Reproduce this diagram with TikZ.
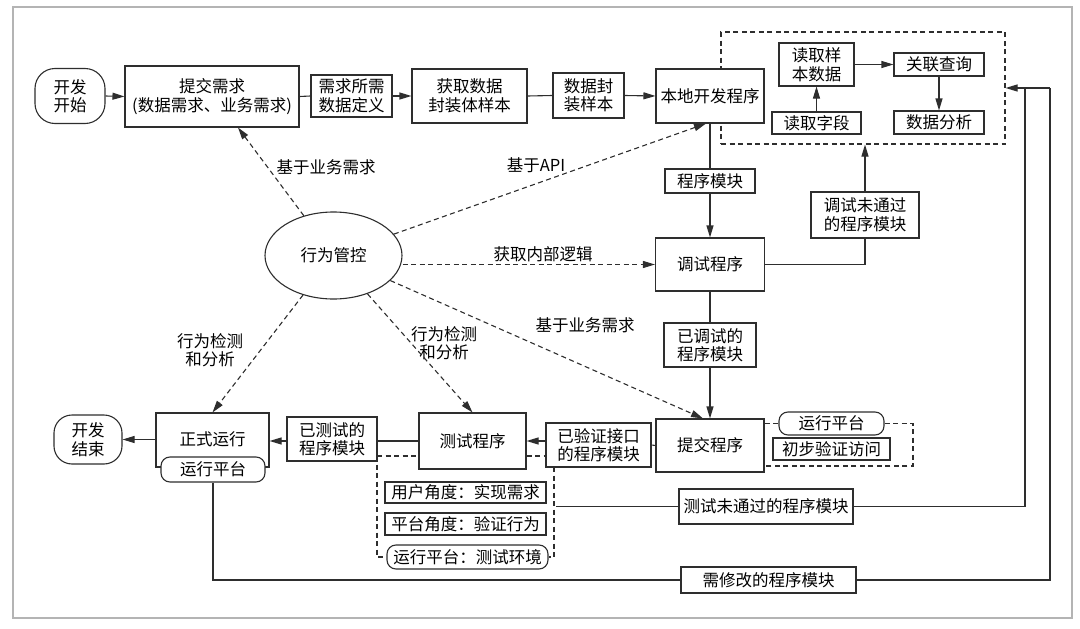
\documentclass[tikz,border=0pt]{standalone}
\usepackage{fontspec}
\setmainfont{Noto Sans CJK SC}
\usetikzlibrary{arrows.meta,shapes.geometric,calc}
\definecolor{lc}{HTML}{2E2E2E}
\definecolor{fr}{HTML}{B4B4B4}
\begin{document}
\begin{tikzpicture}[x=1pt,y=-1pt,
  txt/.style={font=\fontsize{16.5}{18.5}\selectfont},
  box/.style={draw=lc, line width=1.1pt, inner sep=0pt, align=center, txt, fill=white},
  rbox/.style={box, rounded corners=9pt},
  lnk/.style={draw=lc, line width=1.1pt},
  arr/.style={lnk, -{Triangle[length=12pt,width=7pt]}},
  dsh/.style={lnk, dash pattern=on 5pt off 3.5pt},
  darr/.style={dsh, -{Triangle[length=12pt,width=7pt]}},
  lbl/.style={align=center, txt, inner sep=0pt}]
\useasboundingbox (0,0) rectangle (1080,629);
\draw[fr, line width=1.2pt] (13,7) rectangle (1072,618);

% dashed group frame (drawn first so the local box covers it)
\node[draw=lc, line width=1.1pt, dash pattern=on 5pt off 3.5pt, minimum width=284, minimum height=112, inner sep=0pt] (dbox) at (863,88) {};

% top row
\node[box, rounded corners=20pt, minimum width=70, minimum height=55] (start) at (70,96) {开发\\开始};
\node[box, minimum width=174, minimum height=61] (req) at (212,96.5) {提交需求\\(数据需求、业务需求)};
\node[box, minimum width=81, minimum height=42] (reqdef) at (351.5,96) {需求所需\\数据定义};
\node[box, minimum width=115, minimum height=54] (getdata) at (469.5,96) {获取数据\\封装体样本};
\node[box, minimum width=71, minimum height=45] (pack) at (588.5,95.5) {数据封\\装样本};
\node[box, minimum width=108, minimum height=54] (local) at (710,96) {本地开发程序};

% dashed group contents
\node[box, minimum width=75, minimum height=43] (readsample) at (816.5,64.5) {读取样\\本数据};
\node[box, minimum width=90, minimum height=23] (assoc) at (939,64.5) {关联查询};
\node[box, minimum width=89, minimum height=22] (readfield) at (816.5,123) {读取字段};
\node[box, minimum width=90, minimum height=23] (analysis) at (939,122.5) {数据分析};

% middle column
\node[box, minimum width=90, minimum height=24] (pm) at (710,181) {程序模块};
\node[box, minimum width=109, minimum height=53] (debug) at (710,264.5) {调试程序};
\node[box, minimum width=108, minimum height=46] (notpass1) at (865,215) {调试未通过\\的程序模块};
\node[box, minimum width=92, minimum height=44] (debugged) at (710,345) {已调试的\\程序模块};
\node[box, minimum width=108, minimum height=53] (submit) at (710,445.5) {提交程序};
\node[rbox, minimum width=105, minimum height=23] (plat1) at (831.5,423.5) {运行平台};
\node[box, minimum width=117, minimum height=22] (verify) at (831.5,449) {初步验证访问};

% bottom row
\node[box, minimum width=105, minimum height=44] (verified) at (598.5,445) {已验证接口\\的程序模块};
\node[box, minimum width=107, minimum height=56] (test) at (472.5,441) {测试程序};
\node[box, minimum width=90, minimum height=44] (tested) at (332,439) {已测试的\\程序模块};
\node[box, minimum width=113, minimum height=54] (formal) at (212.5,440) {\raisebox{2pt}{正式运行}};
\node[rbox, minimum width=104, minimum height=25] (plat2) at (213,469.5) {运行平台};
\node[box, rounded corners=18pt, minimum width=68, minimum height=49] (end) at (88,439.5) {开发\\结束};

\node[box, minimum width=161, minimum height=21] (user) at (465.5,492.5) {用户角度：实现需求};
\node[box, minimum width=161, minimum height=22] (platv) at (465.5,524) {平台角度：验证行为};
\node[rbox, minimum width=161, minimum height=24] (plat3) at (467.5,557) {运行平台：测试环境};

\node[box, minimum width=174, minimum height=35] (notpass2) at (766,506.5) {测试未通过的程序模块};
\node[box, minimum width=175, minimum height=26] (modify) at (768.5,580) {需修改的程序模块};

% control ellipse
\node[draw=lc, line width=1.1pt, ellipse, minimum width=137, minimum height=87, inner sep=0pt, txt] (ctrl) at (333.5,255.5) {行为管控};

% labels
\node[lbl] (l1) at (326,167) {基于业务需求};
\node[lbl] (l2) at (536,165) {基于API};
\node[lbl] (l3) at (543,254) {获取内部逻辑};
\node[lbl] (l4) at (585,325) {基于业务需求};
\node[lbl] (l5) at (444,343) {行为检测\\和分析};
\node[lbl] (l6) at (210,350) {行为检测\\和分析};

% coordinates
\coordinate (j1) at (1025,88);
\coordinate (j2) at (1050,88);
\coordinate (tf) at (556,506.5);
\coordinate (b1) at (377,456);
\coordinate (b2) at (554,467);
\coordinate (s2) at (913,466);

% top row connectors
\draw[arr] (start.east) -- (req.west);
\draw[lnk] (req.east) -- (reqdef.west);
\draw[arr] (reqdef.east) -- (getdata.west);
\draw[lnk] (getdata.east) -- (pack.west);
\draw[arr] (pack.east) -- (local.west);

% dashed group connectors
\draw[arr] (readsample.east) -- (readsample.east -| assoc.west);
\draw[arr] (assoc.south) -- (analysis.north);
\draw[arr] (readfield.north) -- (readsample.south);

% middle column
\draw[lnk] (local.south) -- (pm.north);
\draw[arr] (pm.south) -- (debug.north);
\draw[lnk] (debug.east) -| (notpass1.south);
\draw[arr] (notpass1.north) -- (notpass1.north |- dbox.south);
\draw[lnk] (debug.south) -- (debugged.north);
\draw[arr] (debugged.south) -- (submit.north);

% submit bracket
\draw[dsh] (submit.east |- plat1.west) -- (plat1.west);
\draw[dsh] (plat1.east) -| (s2) -- (s2 -| submit.east);

% bottom row
\draw[lnk] (submit.west) -- (verified.east);
\draw[arr] (test.east -| verified.west) -- (test.east);
\draw[lnk] (test.west) -- (test.west -| tested.east);
\draw[arr] (test.west -| tested.west) -- (test.west -| formal.east);
\draw[arr] (formal.west |- end.east) -- (end.east);

% test bracket
\draw[dsh] (b1) -- (b1 -| test.west);
\draw[dsh] (b1 -| test.east) -- (b1 -| verified.west);
\draw[dsh] (b1) |- (plat3.west);
\draw[dsh] (b2) |- (plat3.east);

% feedback loops
\draw[lnk] (tf) -- (notpass2.west);
\draw[lnk] (notpass2.east) -| (j1);
\draw[lnk] (plat2.south) |- (modify.west);
\draw[lnk] (modify.east) -| (j2);
\draw[arr] (j2) -- (dbox.east);

% control arrows
\draw[darr] (ctrl) -- ([xshift=26pt]req.south);
\draw[darr] (ctrl) -- ([xshift=-4pt]local.south);
\draw[darr] (ctrl.east |- debug.west) -- (debug.west);
\draw[darr] (ctrl) -- ([xshift=-7pt]submit.north);
\draw[darr] (ctrl) -- (test.north);
\draw[darr] (ctrl) -- (formal.north);
\end{tikzpicture}
\end{document}
